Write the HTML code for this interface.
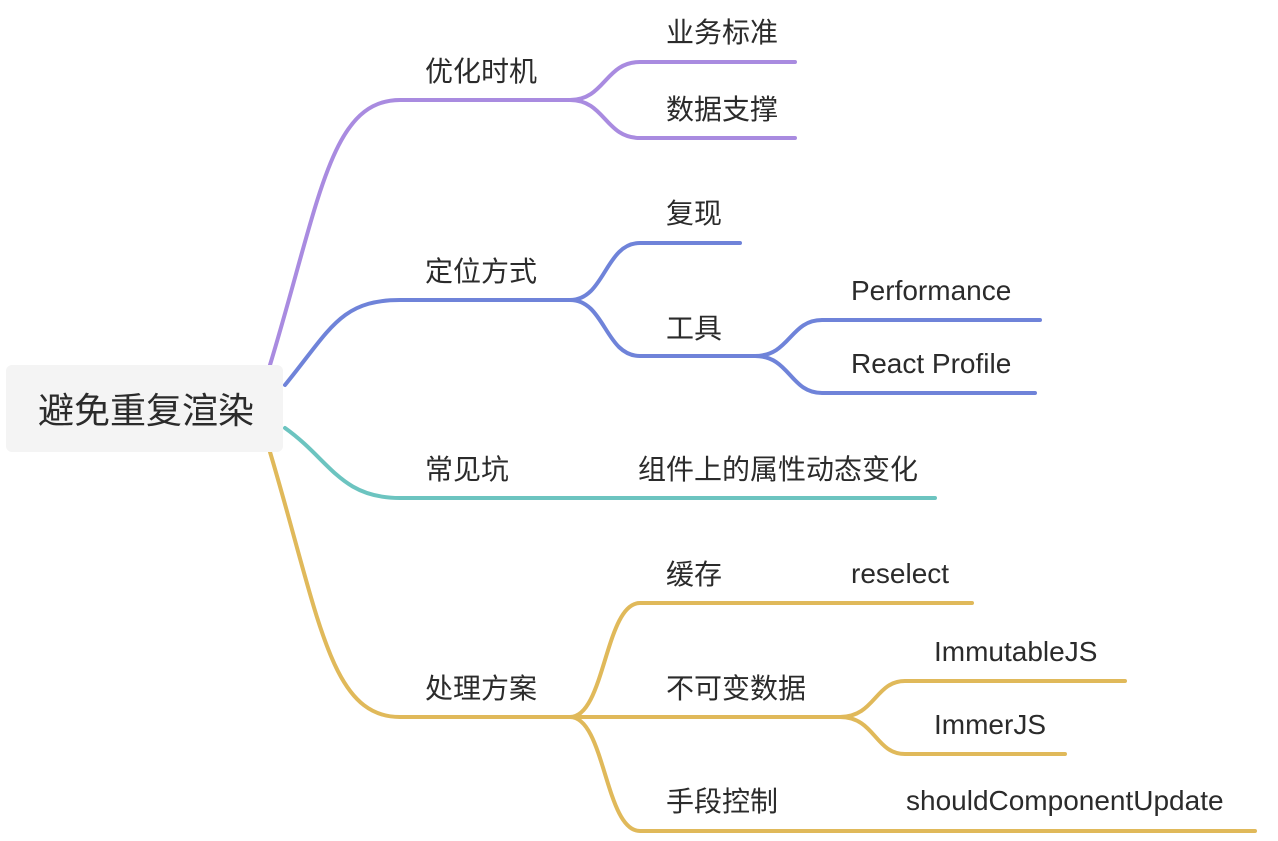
<!DOCTYPE html>
<html><head><meta charset="utf-8"><style>
html,body{margin:0;padding:0;background:#fff;}
svg text{font-family:"Liberation Sans","Noto Sans CJK SC",sans-serif;fill:#2b2b2b;font-size:28px;}
</style></head><body>
<svg width="1278" height="836" viewBox="0 0 1278 836" xmlns="http://www.w3.org/2000/svg">
<g fill="none" stroke-width="4" stroke-linecap="round">
<g stroke="#a98be0">
<path d="M270,365 C320,200 330,100 400,100 L570,100"/>
<path d="M570,100 C605,100 605,62 640,62 L795,62"/>
<path d="M570,100 C605,100 605,138 640,138 L795,138"/>
</g>
<g stroke="#6f83d9">
<path d="M285,385 C330,330 340,300 400,300 L570,300"/>
<path d="M570,300 C605,300 605,243 640,243 L740,243"/>
<path d="M570,300 C605,300 605,356 640,356 L755,356"/>
<path d="M755,356 C790,356 790,320 822,320 L1040,320"/>
<path d="M755,356 C790,356 790,393 822,393 L1035,393"/>
</g>
<g stroke="#6cc4c0">
<path d="M285,428 C330,460 340,498 400,498 L935,498"/>
</g>
<g stroke="#e0b95a">
<path d="M270,452 C320,620 330,717 400,717 L570,717"/>
<path d="M570,717 C605,717 605,603 640,603 L972,603"/>
<path d="M570,717 L840,717"/>
<path d="M570,717 C605,717 605,831 640,831 L1255,831"/>
<path d="M840,717 C875,717 875,681 905,681 L1125,681"/>
<path d="M840,717 C875,717 875,754 905,754 L1065,754"/>
</g>
</g>
<rect x="6" y="365" width="277" height="87" rx="6" fill="#f4f4f4"/>
<text x="38" y="423" style="font-size:36px">避免重复渲染</text>
<text x="425" y="81">优化时机</text>
<text x="666" y="42">业务标准</text>
<text x="666" y="119">数据支撑</text>
<text x="425" y="281">定位方式</text>
<text x="666" y="223">复现</text>
<text x="666" y="338">工具</text>
<text x="851" y="300">Performance</text>
<text x="851" y="373">React Profile</text>
<text x="425" y="479">常见坑</text>
<text x="638" y="479">组件上的属性动态变化</text>
<text x="425" y="698">处理方案</text>
<text x="666" y="584">缓存</text>
<text x="851" y="583">reselect</text>
<text x="666" y="698">不可变数据</text>
<text x="934" y="661">ImmutableJS</text>
<text x="934" y="734">ImmerJS</text>
<text x="666" y="811">手段控制</text>
<text x="906" y="810">shouldComponentUpdate</text>
</svg>
</body></html>
